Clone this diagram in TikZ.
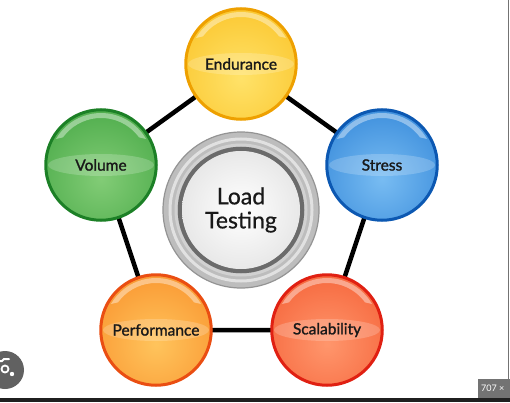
\documentclass[tikz,border=0pt]{standalone}
\usepackage{fontspec}
\setmainfont{Lato}
\newfontfamily\labelfont{Lato}[FakeBold=1.4]
\newfontfamily\hubfont{Lato}[FakeBold=0.6]
\usetikzlibrary{backgrounds}

\definecolor{endin}{RGB}{255,226,105}
\definecolor{endout}{RGB}{248,182,12}
\definecolor{endrim}{RGB}{238,160,0}
\definecolor{strin}{RGB}{120,188,242}
\definecolor{strout}{RGB}{22,112,206}
\definecolor{strrim}{RGB}{12,88,178}
\definecolor{volin}{RGB}{130,204,118}
\definecolor{volout}{RGB}{44,152,48}
\definecolor{volrim}{RGB}{28,128,38}
\definecolor{perfin}{RGB}{255,196,92}
\definecolor{perfout}{RGB}{246,124,24}
\definecolor{perfrim}{RGB}{234,78,18}
\definecolor{scalin}{RGB}{255,150,108}
\definecolor{scalout}{RGB}{240,74,32}
\definecolor{scalrim}{RGB}{224,32,18}

\tikzset{
  ball/.style n args={3}{circle, minimum size=112pt, inner sep=0pt,
    line width=1.5pt, draw=#3, fill=#2, text=black!90,
    font=\labelfont\fontsize{15.5}{17}\selectfont,
    path picture={
      \coordinate (pc) at (path picture bounding box.center);
      \shade[inner color=#1, outer color=#2] ([yshift=-14pt]pc) circle (120pt);
      \fill[white, opacity=.2] (pc) ellipse (53pt and 11pt);
      \fill[white, opacity=.4] ([shift={(150:52pt)}]pc)
        arc[start angle=150, end angle=30, radius=52pt]
        -- ([shift={(36:47pt)}]pc)
        arc[start angle=36, end angle=144, radius=47pt] -- cycle;
      \draw[#3, line width=4.5pt] (pc) circle (56pt);
    }},
  hub/.style={circle, minimum size=156pt, inner sep=0pt, align=center,
    fill=black!26, draw=black!42, line width=1.2pt, text=black!90,
    font=\hubfont\fontsize{23}{24}\selectfont,
    path picture={
      \coordinate (pc) at (path picture bounding box.center);
      \draw[white, opacity=.55, line width=3pt] (pc) circle (71pt);
      \draw[black!18, line width=3pt] (pc) circle (65pt);
      \draw[black!58, line width=4.5pt] (pc) circle (61pt);
      \shade[inner color=white, outer color=black!9] (pc) circle (59pt);
    }},
  edge/.style={line width=4.5pt, black, line join=round},
}

\begin{document}
\begin{tikzpicture}[x=1pt, y=1pt]

    \useasboundingbox (0,0) rectangle (510,402);

    % Nodes

    \node[hub]                              (load)   at (241,192) {Load\\Testing} ; %
    \node[ball={endin}{endout}{endrim}]     (endur)  at (241,338) {Endurance} ; %
    \node[ball={strin}{strout}{strrim}]     (stress) at (382,237) {Stress} ; %
    \node[ball={volin}{volout}{volrim}]     (vol)    at (101,237) {Volume} ; %
    \node[ball={perfin}{perfout}{perfrim}]  (perf)   at (156,72)  {Performance} ; %
    \node[ball={scalin}{scalout}{scalrim}]  (scal)   at (327,72)  {Scalability} ; %

    % Edges

    \begin{scope}[on background layer]
        \fill[white] (0,0) rectangle (510,402);
        \draw[edge] (endur.center) -- (stress.center) -- (scal.center)
            -- (perf.center) -- (vol.center) -- cycle;
    \end{scope}

    % Page frame

    \fill[black!88] (0,0) rectangle (510,4);
    \draw[black!55, line width=1.5pt] (508.5,23) -- (508.5,402);
    \fill[black!55] (478,4) rectangle (510,23);
    \node[anchor=west, inner sep=0pt, text=white, font=\fontsize{9}{10}\selectfont]
        (size) at (481,13.5) {707 ×};

    \fill[black!62] (5,32) circle (19pt);
    \draw[white, line width=1.8pt] (5,33) circle (3.5pt);
    \fill[white] (12,28) circle (2.2pt);
    \draw[white, line width=2pt, line cap=round] (-4,41) -- (2,41) -- (4,43) -- (9,43);

\end{tikzpicture}
\end{document}
